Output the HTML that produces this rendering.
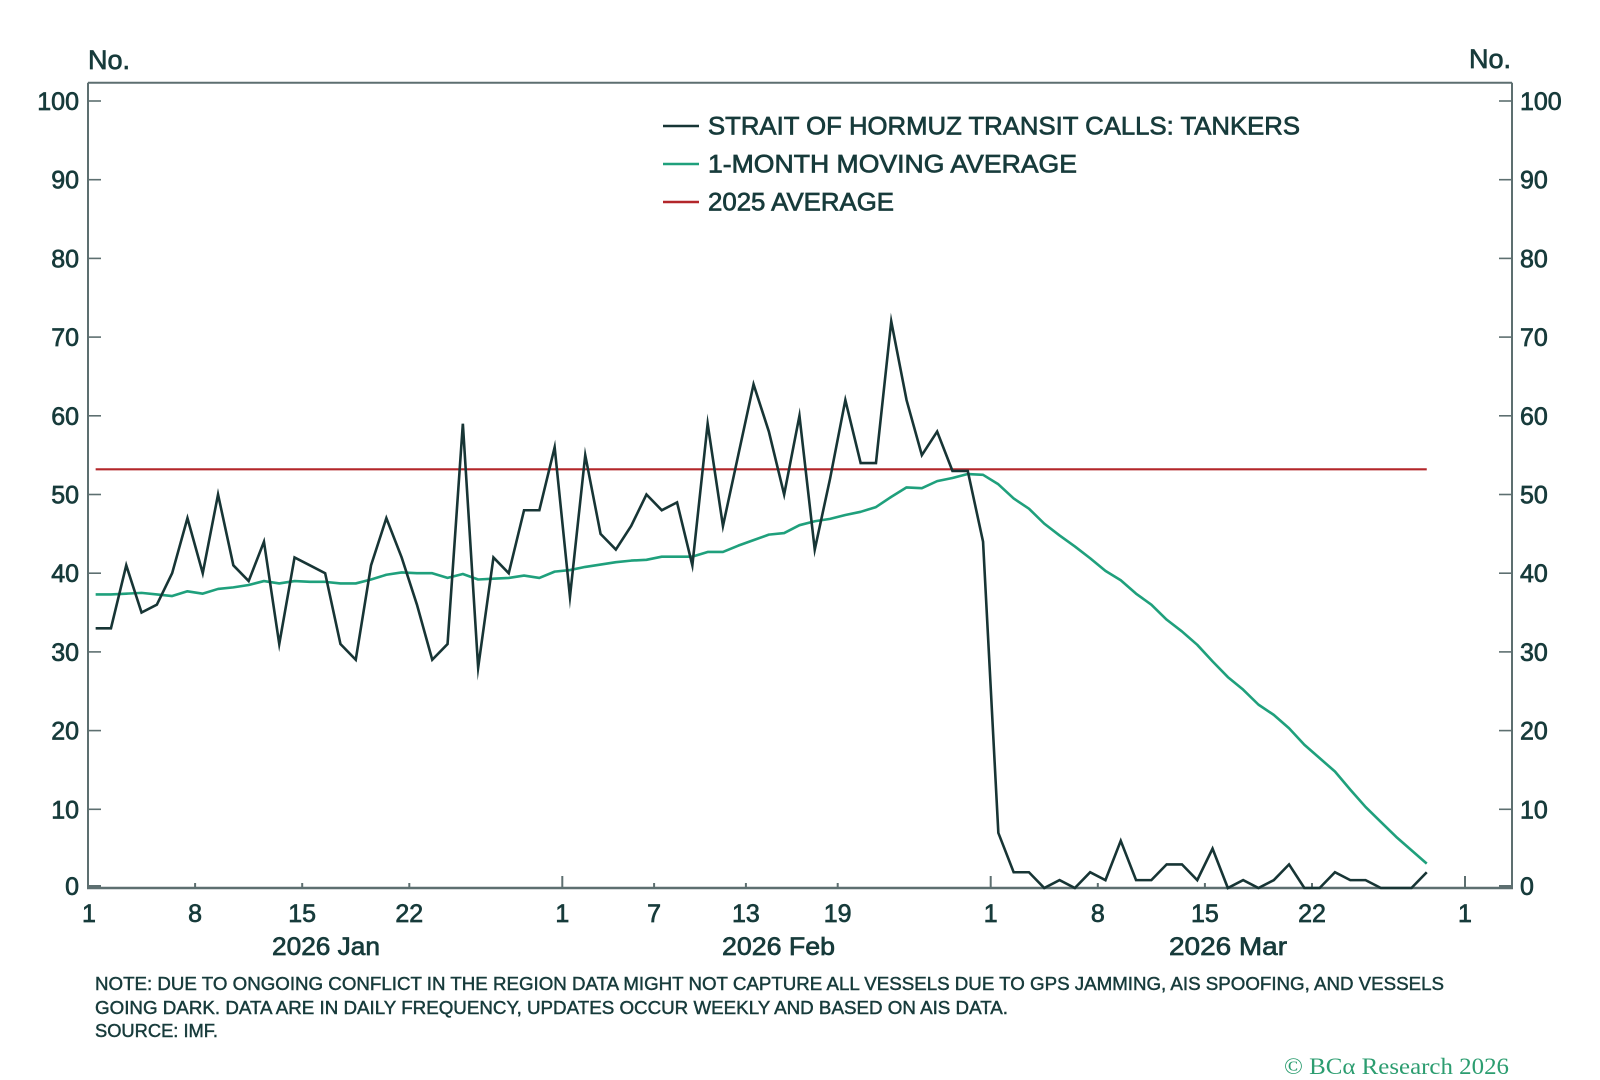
<!DOCTYPE html>
<html>
<head>
<meta charset="utf-8">
<style>
  html,body{margin:0;padding:0;background:#ffffff;}
  svg{display:block;}
  text{font-family:"Liberation Sans", sans-serif;fill:#173b3b;}
  .lab{font-size:25px;stroke:#173b3b;stroke-width:0.7px;}
  .note{font-size:18.5px;stroke:#173b3b;stroke-width:0.45px;}
</style>
</head>
<body>
<svg width="1600" height="1080" viewBox="0 0 1600 1080" xmlns="http://www.w3.org/2000/svg">
  <rect x="0" y="0" width="1600" height="1080" fill="#ffffff"/>

  <!-- unit labels -->
  <text class="lab" x="88" y="69" style="font-size:27px">No.</text>
  <text class="lab" x="1511" y="68" text-anchor="end" style="font-size:27px">No.</text>

  <!-- frame -->
  <g stroke="#5d6f70" stroke-width="2" fill="none">
    <line x1="88" y1="82.7" x2="1512" y2="82.7"/>
    <line x1="88" y1="82.7" x2="88" y2="888"/>
    <line x1="1512" y1="82.7" x2="1512" y2="888"/>
  </g>
  <line x1="87" y1="888" x2="1513" y2="888" stroke="#5d6f70" stroke-width="2.5"/>

  <!-- y ticks left and right -->
  <g stroke="#5d6f70" stroke-width="1.6">
    <line x1="88" y1="101" x2="101" y2="101"/><line x1="1499" y1="101" x2="1512" y2="101"/>
    <line x1="88" y1="179.7" x2="101" y2="179.7"/><line x1="1499" y1="179.7" x2="1512" y2="179.7"/>
    <line x1="88" y1="258.4" x2="101" y2="258.4"/><line x1="1499" y1="258.4" x2="1512" y2="258.4"/>
    <line x1="88" y1="337.1" x2="101" y2="337.1"/><line x1="1499" y1="337.1" x2="1512" y2="337.1"/>
    <line x1="88" y1="415.8" x2="101" y2="415.8"/><line x1="1499" y1="415.8" x2="1512" y2="415.8"/>
    <line x1="88" y1="494.5" x2="101" y2="494.5"/><line x1="1499" y1="494.5" x2="1512" y2="494.5"/>
    <line x1="88" y1="573.2" x2="101" y2="573.2"/><line x1="1499" y1="573.2" x2="1512" y2="573.2"/>
    <line x1="88" y1="651.9" x2="101" y2="651.9"/><line x1="1499" y1="651.9" x2="1512" y2="651.9"/>
    <line x1="88" y1="730.6" x2="101" y2="730.6"/><line x1="1499" y1="730.6" x2="1512" y2="730.6"/>
    <line x1="88" y1="809.3" x2="101" y2="809.3"/><line x1="1499" y1="809.3" x2="1512" y2="809.3"/>
  </g>
  <g stroke="#5d6f70" stroke-width="3">
    <line x1="88" y1="886.5" x2="101" y2="886.5"/>
    <line x1="1499" y1="886.5" x2="1512" y2="886.5"/>
  </g>

  <!-- y labels left -->
  <g class="lab" text-anchor="end">
    <text x="79" y="110">100</text>
    <text x="79" y="188.7">90</text>
    <text x="79" y="267.4">80</text>
    <text x="79" y="346.1">70</text>
    <text x="79" y="424.8">60</text>
    <text x="79" y="503.5">50</text>
    <text x="79" y="582.2">40</text>
    <text x="79" y="660.9">30</text>
    <text x="79" y="739.6">20</text>
    <text x="79" y="818.3">10</text>
    <text x="79" y="895">0</text>
  </g>
  <!-- y labels right -->
  <g class="lab" text-anchor="start">
    <text x="1520" y="110">100</text>
    <text x="1520" y="188.7">90</text>
    <text x="1520" y="267.4">80</text>
    <text x="1520" y="346.1">70</text>
    <text x="1520" y="424.8">60</text>
    <text x="1520" y="503.5">50</text>
    <text x="1520" y="582.2">40</text>
    <text x="1520" y="660.9">30</text>
    <text x="1520" y="739.6">20</text>
    <text x="1520" y="818.3">10</text>
    <text x="1520" y="895">0</text>
  </g>

  <!-- x ticks -->
  <g stroke="#5d6f70" stroke-width="2">
    <line x1="562.3" y1="888" x2="562.3" y2="876"/>
    <line x1="990.7" y1="888" x2="990.7" y2="876"/>
    <line x1="1465" y1="888" x2="1465" y2="876"/>
    <line x1="195.1" y1="888" x2="195.1" y2="883"/>
    <line x1="302.2" y1="888" x2="302.2" y2="883"/>
    <line x1="409.3" y1="888" x2="409.3" y2="883"/>
    <line x1="654.1" y1="888" x2="654.1" y2="883"/>
    <line x1="745.9" y1="888" x2="745.9" y2="883"/>
    <line x1="837.7" y1="888" x2="837.7" y2="883"/>
    <line x1="1097.8" y1="888" x2="1097.8" y2="883"/>
    <line x1="1204.9" y1="888" x2="1204.9" y2="883"/>
    <line x1="1312" y1="888" x2="1312" y2="883"/>
  </g>

  <!-- x labels -->
  <g class="lab" text-anchor="middle">
    <text x="89" y="922">1</text>
    <text x="195.1" y="922">8</text>
    <text x="302.2" y="922">15</text>
    <text x="409.3" y="922">22</text>
    <text x="562.3" y="922">1</text>
    <text x="654.1" y="922">7</text>
    <text x="745.9" y="922">13</text>
    <text x="837.7" y="922">19</text>
    <text x="990.7" y="922">1</text>
    <text x="1097.8" y="922">8</text>
    <text x="1204.9" y="922">15</text>
    <text x="1312" y="922">22</text>
    <text x="1465" y="922">1</text>
  </g>
  <g class="lab">
    <text x="272" y="955" textLength="108" lengthAdjust="spacingAndGlyphs">2026 Jan</text>
    <text x="722" y="955" textLength="113" lengthAdjust="spacingAndGlyphs">2026 Feb</text>
    <text x="1169" y="955" textLength="118" lengthAdjust="spacingAndGlyphs">2026 Mar</text>
  </g>

  <!-- 2025 average -->
  <line x1="95.65" y1="469.3" x2="1426.75" y2="469.3" stroke="#b3262a" stroke-width="2.2"/>

  <!-- moving average -->
  <polyline fill="none" stroke="#1fa07c" stroke-width="2.6" stroke-linejoin="round" vector-effect="non-scaling-stroke"
    transform="translate(95.65 888) scale(15.3 -7.87)"
    points="0,37.3 1,37.3 2,37.4 3,37.5 4,37.3 5,37.1 6,37.7 7,37.4 8,38.0 9,38.2 10,38.5 11,39.0 12,38.7 13,39.0 14,38.9 15,38.9 16,38.7 17,38.7 18,39.2 19,39.8 20,40.1 21,40.0 22,40.0 23,39.4 24,39.9 25,39.2 26,39.3 27,39.4 28,39.7 29,39.4 30,40.2 31,40.4 32,40.8 33,41.1 34,41.4 35,41.6 36,41.7 37,42.1 38,42.1 39,42.1 40,42.7 41,42.7 42,43.5 43,44.2 44,44.9 45,45.1 46,46.1 47,46.6 48,46.9 49,47.4 50,47.8 51,48.4 52,49.7 53,50.9 54,50.8 55,51.7 56,52.1 57,52.6 58,52.5 59,51.3 60,49.5 61,48.2 62,46.3 63,44.8 64,43.4 65,41.9 66,40.3 67,39.1 68,37.4 69,36.0 70,34.1 71,32.6 72,30.9 73,28.8 74,26.8 75,25.2 76,23.3 77,22.0 78,20.3 79,18.2 80,16.5 81,14.8 82,12.5 83,10.3 84,8.4 85,6.5 86,4.8 87,3.1"/>

  <!-- daily tanker calls -->
  <polyline fill="none" stroke="#173535" stroke-width="2.6" stroke-linejoin="miter" stroke-miterlimit="10" vector-effect="non-scaling-stroke"
    transform="translate(95.65 888) scale(15.3 -7.87)"
    points="0,33 1,33 2,41 3,35 4,36 5,40 6,47 7,40 8,50 9,41 10,39 11,44 12,31 13,42 14,41 15,40 16,31 17,29 18,41 19,47 20,42 21,36 22,29 23,31 24,59 25,28 26,42 27,40 28,48 29,48 30,56 31,37 32,55 33,45 34,43 35,46 36,50 37,48 38,49 39,41 40,59 41,46 42,55 43,64 44,58 45,50 46,60 47,43 48,52 49,62 50,54 51,54 52,72 53,62 54,55 55,58 56,53 57,53 58,44 59,7 60,2 61,2 62,0 63,1 64,0 65,2 66,1 67,6 68,1 69,1 70,3 71,3 72,1 73,5 74,0 75,1 76,0 77,1 78,3 79,0 80,0 81,2 82,1 83,1 84,0 85,0 86,0 87,2"/>

  <!-- legend -->
  <line x1="663" y1="126" x2="699" y2="126" stroke="#173535" stroke-width="2.4"/>
  <line x1="663" y1="164" x2="699" y2="164" stroke="#1fa07c" stroke-width="2.4"/>
  <line x1="663" y1="202" x2="699" y2="202" stroke="#b3262a" stroke-width="2.4"/>
  <g class="lab">
    <text x="708" y="134.5" textLength="592" lengthAdjust="spacingAndGlyphs">STRAIT OF HORMUZ TRANSIT CALLS: TANKERS</text>
    <text x="708" y="172.5" textLength="369" lengthAdjust="spacingAndGlyphs">1-MONTH MOVING AVERAGE</text>
    <text x="708" y="210.5" textLength="186" lengthAdjust="spacingAndGlyphs">2025 AVERAGE</text>
  </g>

  <!-- notes -->
  <g class="note">
    <text x="95" y="990" textLength="1349" lengthAdjust="spacingAndGlyphs">NOTE: DUE TO ONGOING CONFLICT IN THE REGION DATA MIGHT NOT CAPTURE ALL VESSELS DUE TO GPS JAMMING, AIS SPOOFING, AND VESSELS</text>
    <text x="95" y="1014" textLength="913" lengthAdjust="spacingAndGlyphs">GOING DARK. DATA ARE IN DAILY FREQUENCY, UPDATES OCCUR WEEKLY AND BASED ON AIS DATA.</text>
    <text x="95" y="1037" textLength="123" lengthAdjust="spacingAndGlyphs">SOURCE: IMF.</text>
  </g>

  <!-- copyright -->
  <text x="1284" y="1074" textLength="225" lengthAdjust="spacingAndGlyphs" style="font-family:'Liberation Serif', serif;font-size:23px;fill:#2c9d70;">© BCα Research 2026</text>
</svg>
</body>
</html>
